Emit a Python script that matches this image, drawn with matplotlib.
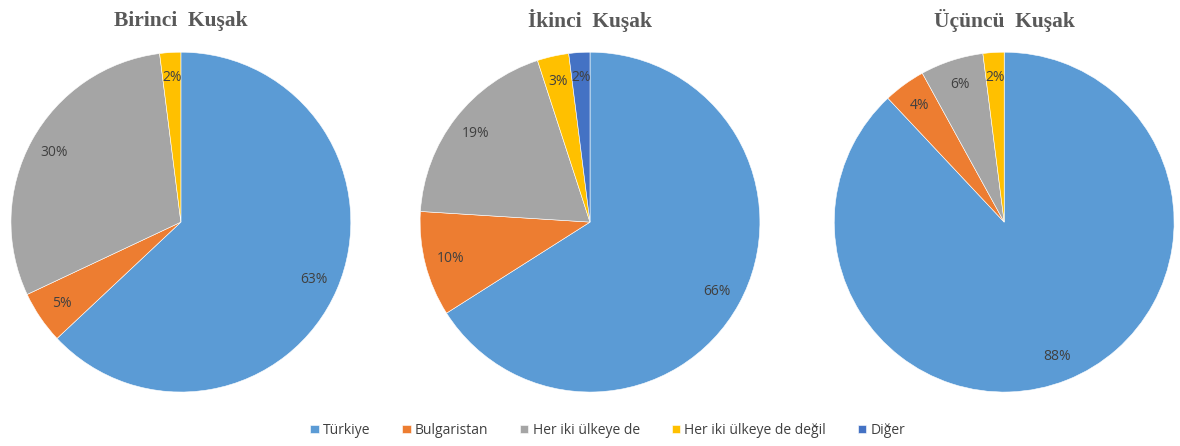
import matplotlib
matplotlib.use("Agg")
import matplotlib.pyplot as plt

categories = ["Türkiye", "Bulgaristan", "Her iki ülkeye de", "Her iki ülkeye de değil", "Diğer"]
titles = ["Birinci  Kuşak", "İkinci  Kuşak", "Üçüncü  Kuşak"]
birinci = [63, 5, 30, 2, 0]
ikinci = [66, 10, 19, 3, 2]
ucuncu = [88, 4, 6, 2, 0]
colors = ["#5B9BD5", "#ED7D31", "#A5A5A5", "#FFC000", "#4472C4"]

fig = plt.figure(figsize=(11.8, 4.46), dpi=100)
lefts = [0.0093, 0.356, 0.707]
legend_wedges = None

for left, title, vals in zip(lefts, titles, [birinci, ikinci, ucuncu]):
    ax = fig.add_axes([left, 0.121, 0.288, 0.762])
    keep = [i for i, v in enumerate(vals) if v > 0]
    wedges, texts, autotexts = ax.pie(
        [vals[i] for i in keep],
        colors=[colors[i] for i in keep],
        startangle=90, counterclock=False,
        autopct="%.0f%%", pctdistance=0.85,
        wedgeprops=dict(edgecolor="white", linewidth=0.4),
        textprops=dict(color="#404040", fontsize=10, family="Open Sans"),
    )
    ax.set_aspect("equal")
    ax.set_xlim(-1, 1)
    ax.set_ylim(-1, 1)
    fig.text(left + 0.144, 0.953, title, ha="center", va="center",
             family="Liberation Serif", fontweight="bold", fontsize=15.5, color="#595959")
    if len(keep) == len(categories):
        legend_wedges = wedges

fig.legend(legend_wedges, categories, loc="lower center", bbox_to_anchor=(0.515, -0.01),
           ncol=5, frameon=False, handlelength=0.6, handleheight=0.6, handletextpad=0.3,
           columnspacing=2.3, prop=dict(family="Open Sans", size=10), labelcolor="#404040")

fig.savefig("out.png", dpi=100)
